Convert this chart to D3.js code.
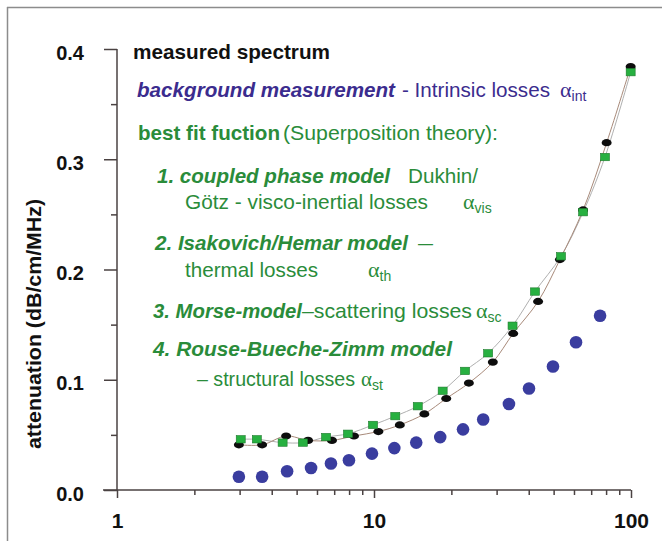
<!DOCTYPE html>
<html>
<head>
<meta charset="utf-8">
<script src="https://cdn.jsdelivr.net/npm/d3@7"></script>
<style>
  html, body { margin: 0; padding: 0; background: #ffffff; }
  svg { display: block; }
  text { font-family: "Liberation Sans", Arial, sans-serif; }
</style>
</head>
<body>
<svg id="chart" width="662" height="541"></svg>
<script>
// ---- data ----
const freqMeasured = [2.98, 3.67, 4.55, 5.54, 6.86, 8.36, 10.4, 12.6, 15.7, 19.1, 23.4, 29.0, 34.8, 43.5, 52.9, 65.1, 80.4, 99.7];
const attMeasured  = [0.041, 0.041, 0.049, 0.045, 0.045, 0.049, 0.053, 0.059, 0.069, 0.083, 0.097, 0.116, 0.142, 0.171, 0.209, 0.254, 0.315, 0.384];

const freqFit = [3.03, 3.50, 4.41, 5.29, 6.51, 7.92, 9.91, 12.1, 14.8, 18.5, 22.6, 27.8, 34.6, 42.3, 53.4, 65.1, 79.2, 99.7];
const attFit  = [0.046, 0.046, 0.043, 0.043, 0.048, 0.051, 0.059, 0.067, 0.076, 0.090, 0.108, 0.124, 0.149, 0.180, 0.212, 0.252, 0.302, 0.379];

const freqBackground = [2.98, 3.67, 4.59, 5.69, 6.80, 7.99, 9.82, 12.0, 14.6, 18.1, 22.2, 26.6, 33.5, 40.1, 49.7, 61.1, 75.8];
const attBackground  = [0.012, 0.012, 0.017, 0.020, 0.024, 0.027, 0.033, 0.038, 0.043, 0.048, 0.055, 0.064, 0.078, 0.092, 0.112, 0.134, 0.158];

const xMajorTicks = [1, 10, 100];
const xMinorTicks = [2,3,4,5,6,7,8,9,20,30,40,50,60,70,80,90];
const yMajorTicks = [0.0, 0.1, 0.2, 0.3, 0.4];
const yMinorTicks = [0.05, 0.15, 0.25, 0.35];
const yTitle = "attenuation (dB/cm/MHz)";

// ---- layout ----
const svg = d3.select("#chart");
const x = d3.scaleLog().domain([1, 100]).range([117, 631]);
const y = d3.scaleLinear().domain([0, 0.4]).range([490, 49]);

const axisColor = "#4a4242";
const green = "#2a8c3a";
const purple = "#3b2c8e";
const blue = "#3a3d9f";

// frame
svg.append("line").attr("x1", 7).attr("x2", 662).attr("y1", 7.5).attr("y2", 7.5)
  .attr("stroke", "#8c8c8c").attr("stroke-width", 1.5);
svg.append("line").attr("x1", 7.5).attr("x2", 7.5).attr("y1", 7).attr("y2", 541)
  .attr("stroke", "#8c8c8c").attr("stroke-width", 1.5);

// x axis
const gx = svg.append("g").attr("transform", `translate(0,${y(0)})`);
gx.append("g").call(d3.axisBottom(x).tickValues(xMinorTicks).tickSize(5).tickFormat("").tickSizeOuter(0));
gx.append("g").call(d3.axisBottom(x).tickValues(xMajorTicks).tickSize(8).tickPadding(15)
  .tickFormat(d3.format("d")).tickSizeOuter(0));
gx.selectAll(".domain").remove();
gx.append("line").attr("x1", 103).attr("x2", x(100)).attr("y1", 0).attr("y2", 0);
gx.selectAll("line").attr("stroke", axisColor).attr("stroke-width", 1.5);
gx.selectAll("text").attr("font-size", 21).attr("font-weight", "bold").attr("fill", "#111");

// y axis
const gy = svg.append("g").attr("transform", `translate(${x(1)},0)`);
gy.append("g").call(d3.axisLeft(y).tickValues(yMinorTicks).tickSize(6).tickFormat("").tickSizeOuter(0));
gy.append("g").call(d3.axisLeft(y).tickValues(yMajorTicks).tickSize(13).tickPadding(20)
  .tickFormat(d3.format(".1f")).tickSizeOuter(0));
gy.selectAll(".domain").remove();
gy.append("line").attr("x1", 0).attr("x2", 0).attr("y1", y(0.4)).attr("y2", y(0));
gy.selectAll("line").attr("stroke", axisColor).attr("stroke-width", 1.5);
gy.selectAll("text").attr("font-size", 20).attr("font-weight", "bold").attr("fill", "#111").attr("dy", "0.5em");

// y title
svg.append("text")
  .attr("transform", `translate(41,${(199 + 449) / 2}) rotate(-90)`)
  .attr("text-anchor", "middle")
  .attr("font-size", 20).attr("font-weight", "bold").attr("fill", "#111")
  .attr("textLength", 250).attr("lengthAdjust", "spacingAndGlyphs")
  .text(yTitle);

// ---- lines ----
const measured = freqMeasured.map((f, i) => ({f, v: attMeasured[i]}));
const fit = freqFit.map((f, i) => ({f, v: attFit[i]}));
const bg = freqBackground.map((f, i) => ({f, v: attBackground[i]}));

const line = d3.line().x(d => x(d.f)).y(d => y(d.v)).curve(d3.curveCatmullRom);
svg.append("path").attr("d", line(fit)).attr("fill", "none").attr("stroke", "#b0b0b0").attr("stroke-width", 1);
svg.append("path").attr("d", line(measured)).attr("fill", "none").attr("stroke", "#a88a7a").attr("stroke-width", 1);

// ---- markers ----
svg.append("g").selectAll("circle").data(bg).join("circle")
  .attr("cx", d => x(d.f)).attr("cy", d => y(d.v)).attr("r", 6.3)
  .attr("fill", blue);

svg.append("g").selectAll("ellipse").data(measured).join("ellipse")
  .attr("cx", d => x(d.f)).attr("cy", d => y(d.v)).attr("rx", 5).attr("ry", 3.6)
  .attr("fill", "#0d0d0d");

svg.append("g").selectAll("rect").data(fit).join("rect")
  .attr("x", d => x(d.f) - 4.5).attr("y", d => y(d.v) - 3.7).attr("width", 9).attr("height", 7.4)
  .attr("fill", "#27b040").attr("stroke", "#1d7a2c").attr("stroke-width", 0.6);

// ---- legend text ----
function seg(txt, px, py, len, opts) {
  const t = svg.append("text").attr("x", px).attr("y", py)
    .attr("font-size", opts.size || 21)
    .attr("fill", opts.fill)
    .attr("font-weight", opts.bold ? "bold" : "normal")
    .attr("font-style", opts.italic ? "italic" : "normal")
    .text(txt);
  if (len) t.attr("textLength", len).attr("lengthAdjust", "spacingAndGlyphs");
  return t;
}
// a regular text run followed by an alpha symbol with subscript, in ONE text element
function segAlpha(txt, px, py, len, ax, sub, fill, size) {
  const s = size || 21;
  const t = svg.append("text").attr("x", px).attr("y", py).attr("fill", fill).attr("font-size", s);
  t.append("tspan").attr("textLength", len).attr("lengthAdjust", "spacingAndGlyphs").text(txt);
  t.append("tspan").attr("x", ax).attr("font-family", "Liberation Serif, serif").attr("font-size", s + 1).text("α");
  t.append("tspan").attr("font-size", 14).attr("dy", 4).text(sub);
  return t;
}

seg("measured spectrum", 133, 59, 197, {bold: true, fill: "#111"});

seg("background measurement", 137, 97, 258, {bold: true, italic: true, fill: purple});
segAlpha("- Intrinsic losses", 402, 97, 148, 560, "int", purple);

seg("best fit fuction", 138, 140, 142, {bold: true, fill: green});
seg("(Superposition theory):", 283, 140, 215, {fill: green});

seg("1. coupled phase model", 157, 183, 233, {bold: true, italic: true, fill: green});
seg("Dukhin/", 408, 183, 70, {fill: green});
segAlpha("Götz - visco-inertial losses", 185, 209, 243, 463, "vis", green);

seg("2. Isakovich/Hemar model", 155, 250, 253, {bold: true, italic: true, fill: green});
seg("–", 418, 250, 15, {fill: green});
segAlpha("thermal losses", 185, 277, 133, 368, "th", green);

seg("3. Morse-model", 153, 318, 149, {bold: true, italic: true, fill: green});
segAlpha("–scattering losses", 302, 318, 170, 476, "sc", green);

seg("4. Rouse-Bueche-Zimm model", 153, 356, 299, {bold: true, italic: true, fill: green, size: 20});
segAlpha("– structural losses", 197, 386, 158, 361, "st", green, 20);
</script>
</body>
</html>
